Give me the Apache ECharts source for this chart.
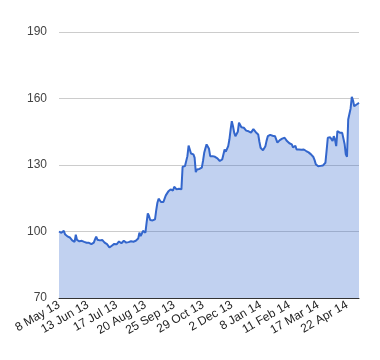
<!DOCTYPE html>
<html>
<head>
<meta charset="utf-8">
<script src="https://cdn.jsdelivr.net/npm/echarts@6/dist/echarts.min.js"></script>
<style>
html,body{margin:0;padding:0;background:#fff;}
#chart{width:380px;height:360px;}
</style>
</head>
<body>
<div id="chart"></div>
<script>
// Tick labels shown every 24 trading days
const tickLabels = ['8 May 13','13 Jun 13','17 Jul 13','20 Aug 13','25 Sep 13','29 Oct 13','2 Dec 13','8 Jan 14','11 Feb 14','17 Mar 14','22 Apr 14'];
const labelStep = 24;

// Daily values
const values = [
  100.0, 99.6, 99.4, 100.2, 100.3, 98.8, 98.0, 97.8, 97.4, 97.3,
  96.6, 96.0, 95.6, 95.3, 98.6, 96.2, 95.3, 95.6, 96.0, 95.8,
  95.5, 95.3, 95.2, 94.9, 94.7, 94.9, 94.4, 94.3, 94.8, 95.0,
  96.4, 97.7, 96.3, 96.5, 96.0, 96.8, 96.2, 95.6, 95.0, 94.6,
  94.3, 93.8, 92.8, 93.2, 93.6, 93.5, 94.4, 95.0, 94.2, 94.3,
  95.5, 94.8, 94.7, 95.3, 95.8, 94.9, 95.0, 95.6, 95.2, 95.8,
  95.6, 95.5, 95.4, 95.7, 95.8, 96.0, 96.8, 99.5, 98.0, 99.0,
  100.3, 100.0, 99.5, 104.0, 108.2, 107.0, 105.2, 104.8, 105.0, 105.4,
  105.5, 109.5, 113.0, 114.8, 114.0, 113.3, 113.6, 113.3, 114.8, 116.3,
  116.8, 118.0, 117.5, 119.0, 118.5, 118.5, 120.2, 119.6, 119.0, 119.8,
  119.3, 119.6, 119.0, 129.2, 128.3, 129.5, 130.3, 134.0, 138.8, 138.5,
  135.2, 136.0, 134.8, 133.3, 126.8, 128.0, 127.3, 128.2, 128.0, 128.8,
  131.8, 135.5, 137.5, 139.3, 138.6, 137.3, 134.0, 134.6, 134.0, 133.6,
  133.7, 134.2, 133.0, 132.8, 131.8, 132.4, 132.5, 132.0, 137.0, 136.0,
  136.3, 138.5, 141.5, 146.0, 149.8, 147.5, 144.6, 143.0, 142.3, 145.0,
  149.1, 148.2, 147.0, 147.5, 146.8, 146.4, 145.5, 146.0, 145.2, 145.5,
  144.6, 145.0, 146.2, 145.7, 144.8, 144.2, 143.8, 140.5, 137.8, 137.0,
  136.6, 136.3, 138.5, 141.0, 143.0, 143.2, 143.6, 143.8, 143.2, 142.8,
  143.0, 142.3, 140.1, 140.8, 141.2, 141.5, 141.9, 142.0, 142.3, 141.5,
  140.8, 141.2, 139.8, 140.0, 139.3, 138.0, 137.8, 138.6, 137.0, 137.4,
  137.0, 137.3, 136.9, 136.7, 137.0, 136.5, 136.3, 136.0, 135.7, 135.5,
  134.8, 134.0, 133.6, 132.2, 130.3, 130.8, 129.4, 129.2, 129.6, 129.3,
  129.8, 130.2, 131.0, 136.5, 142.3, 141.6, 142.5, 143.0, 140.8, 143.0,
  141.5, 138.5, 145.3, 145.0, 144.6, 144.8, 144.5, 145.3, 139.5, 134.8,
  133.7, 150.5, 151.3, 155.5, 160.8, 159.2, 156.5, 157.0, 157.3, 157.8, 158.0
];

const yMin = 70, yMax = 190, yStep = 30;

const categories = values.map((v, i) => i);

const chart = echarts.init(document.getElementById('chart'), null, {renderer: 'canvas'});
chart.setOption({
  animation: false,
  textStyle: {fontFamily: 'Liberation Sans, Arial, sans-serif'},
  grid: {left: 59, right: 21, top: 32, bottom: 62, containLabel: false},
  xAxis: {
    type: 'category',
    data: categories,
    boundaryGap: false,
    axisLine: {show: true, lineStyle: {color: '#333', width: 1}},
    axisTick: {show: false},
    splitLine: {show: false},
    axisLabel: {
      interval: (idx) => idx % labelStep === 0 && idx / labelStep < tickLabels.length,
      formatter: (val, idx) => tickLabels[idx / labelStep] || '',
      rotate: 30,
      color: '#222',
      fontSize: 12,
      margin: 6
    }
  },
  yAxis: {
    type: 'value',
    min: yMin,
    max: yMax,
    interval: yStep,
    axisLine: {show: false},
    axisTick: {show: false},
    splitLine: {show: true, lineStyle: {color: '#ccc', width: 1}},
    axisLabel: {color: '#444', fontSize: 12, margin: 12}
  },
  series: [{
    type: 'line',
    data: values,
    showSymbol: false,
    symbol: 'none',
    lineStyle: {color: '#3366cc', width: 2},
    areaStyle: {color: '#3366cc', opacity: 0.3, origin: 'start'},
    itemStyle: {color: '#3366cc'}
  }]
});
</script>
</body>
</html>
